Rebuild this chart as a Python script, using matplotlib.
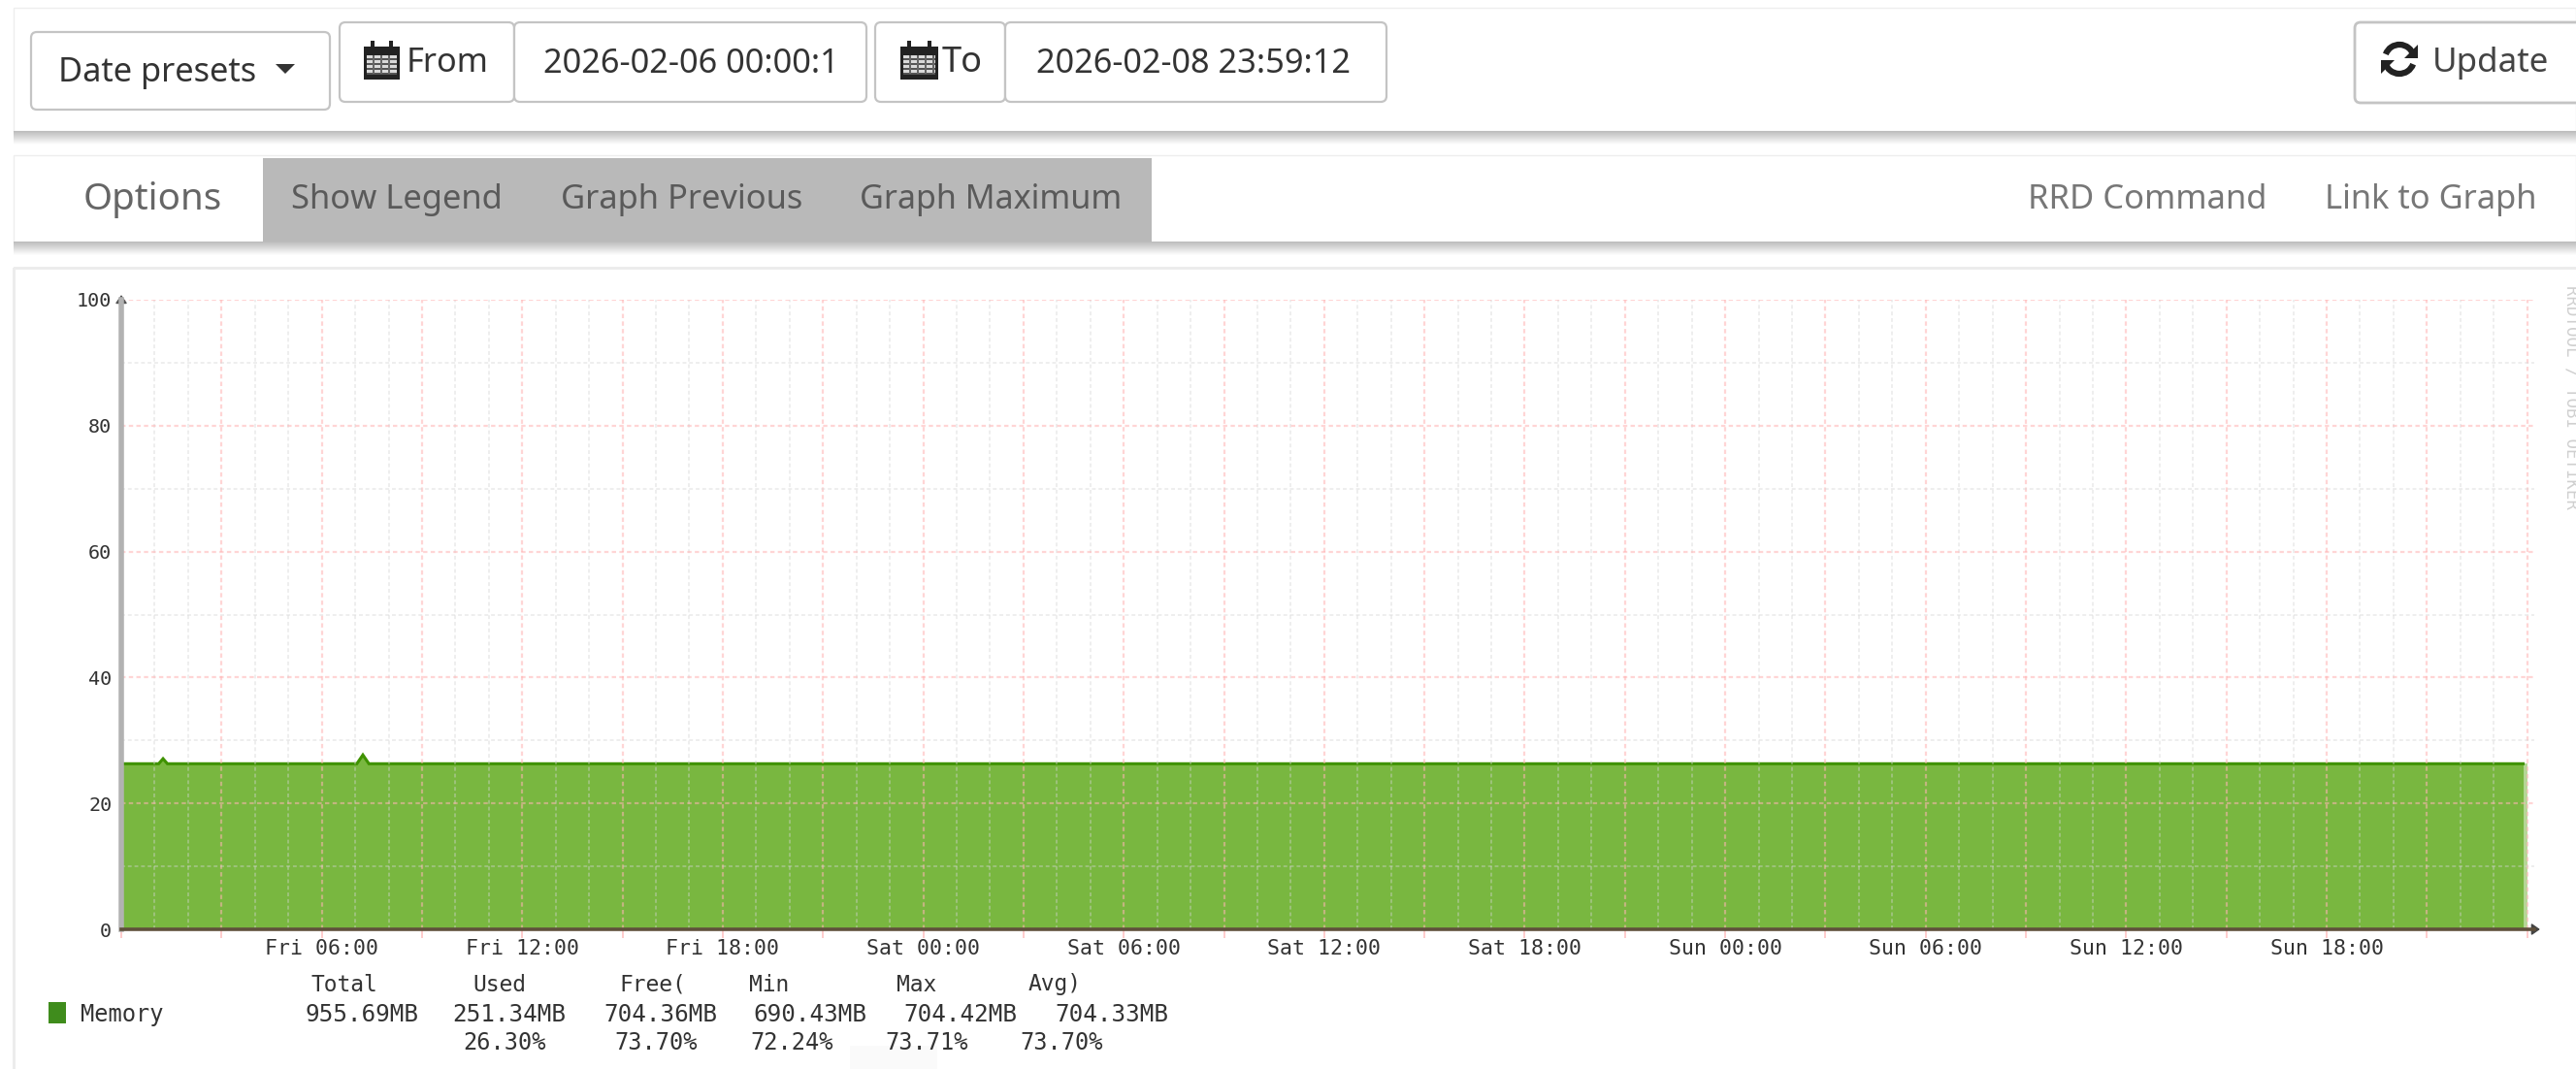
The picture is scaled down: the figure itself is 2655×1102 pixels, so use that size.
import matplotlib
matplotlib.use("Agg")
import matplotlib.pyplot as plt
from matplotlib.patches import Rectangle, FancyBboxPatch, Arc, Polygon
import numpy as np

# ---------- data ----------
hours = [0, 1.12, 1.25, 1.38, 7.05, 7.23, 7.41, 71.88]
memory_pct = [26.3, 26.3, 27.1, 26.3, 26.3, 27.7, 26.3, 26.3]
last_hours = [71.88, 72.0]
last_pct = [26.3, 26.3]
y_ticks = [0, 20, 40, 60, 80, 100]
x_major_ticks = list(range(6, 67, 6))
x_labels = ["Fri 06:00", "Fri 12:00", "Fri 18:00", "Sat 00:00", "Sat 06:00", "Sat 12:00",
            "Sat 18:00", "Sun 00:00", "Sun 06:00", "Sun 12:00", "Sun 18:00"]
legend_headers = ["Total", "Used", "Free(", "Min", "Max", "Avg)"]
legend_values = ["955.69MB", "251.34MB", "704.36MB", "690.43MB", "704.42MB", "704.33MB"]
legend_percents = ["26.30%", "73.70%", "72.24%", "73.71%", "73.70%"]

W, H = 2655, 1102
fig = plt.figure(figsize=(W / 100, H / 100), dpi=100, facecolor="white")
ui = fig.add_axes([0, 0, 1, 1], zorder=0)
ui.set_xlim(0, W)
ui.set_ylim(H, 0)
ui.axis("off")
renderer = fig.canvas.get_renderer()
UI_FONT = "Noto Sans"
MONO = "DejaVu Sans Mono"


def fit(x0, x1, y, s, color="#333333", family=UI_FONT, z=5):
    t = ui.text(x0, y + 3, s, color=color, family=family, fontsize=18, va="center", ha="left", zorder=z)
    w = t.get_window_extent(renderer).width
    t.set_fontsize(18 * (x1 - x0) / w)
    return t


def rect(x0, y0, x1, y1, fc, ec="none", lw=0, z=1, alpha=None):
    ui.add_patch(Rectangle((x0, y0), x1 - x0, y1 - y0, fc=fc, ec=ec, lw=lw, zorder=z, alpha=alpha))


def button(x0, y0, x1, y1, ec="#c4c4c4", lw=1.6, z=3):
    ui.add_patch(FancyBboxPatch((x0 + 5, y0 + 5), x1 - x0 - 10, y1 - y0 - 10,
                                boxstyle="round,pad=5,rounding_size=6", fc="white", ec=ec, lw=lw, zorder=z))


def shadow(y0, x0=14, x1=W, n=14):
    for i in range(n):
        g = 0.74 + 0.25 * (i / (n - 1))
        rect(x0, y0 + i, x1, y0 + i + 1, (g, g, g), z=1)


def calendar(x0, y0, x1, y1):
    rect(x0, y0 + 6, x1, y1, "#222222", z=6)
    rect(x0 + 3, y0 + 15, x1 - 3, y1 - 6, "#d9d9d9", z=6)
    for yy in np.arange(y0 + 18, y1 - 6, 5):
        rect(x0 + 3, yy, x1 - 3, yy + 1.5, "#555555", z=7)
    for xx in np.arange(x0 + 9, x1 - 4, 8):
        rect(xx, y0 + 15, xx + 1.5, y1 - 6, "#666666", z=7)
    for xx in (x0 + 7, x1 - 11):
        rect(xx, y0, xx + 4, y0 + 9, "#222222", z=7)


# ---------- page chrome ----------
rect(14, 8, W, 135, "white", ec="#eeeeee", lw=1)
shadow(135)
rect(14, 160, W, 249, "white", ec="#eeeeee", lw=1)
shadow(249)
rect(14, 276, W, H, "white", z=2)
rect(14, 275, W, 278, "#ececec", z=2)
rect(13, 276, 16, H, "#ececec", z=2)

button(32, 33, 340, 113)
fit(60, 264, 72, "Date presets")
ui.add_patch(Polygon([[284, 66], [304, 66], [294, 76]], fc="#333333", zorder=6))
button(350, 23, 530, 105)
button(530, 23, 893, 105)
calendar(375, 42, 412, 82)
fit(419, 504, 62, "From")
fit(560, 865, 63, "2026-02-06 00:00:1")
button(902, 23, 1036, 105)
button(1036, 23, 1429, 105)
calendar(928, 42, 967, 82)
fit(971, 1013, 62, "To")
fit(1068, 1392, 63, "2026-02-08 23:59:12")
button(2427, 23, 2675, 106, lw=2.0)
ui.add_patch(Arc((2473, 61), 30, 30, theta1=20, theta2=165, color="#222222", lw=4.5, zorder=6))
ui.add_patch(Arc((2473, 61), 30, 30, theta1=200, theta2=345, color="#222222", lw=4.5, zorder=6))
ui.add_patch(Polygon([[2478, 60], [2492, 60], [2492, 46]], fc="#222222", zorder=6))
ui.add_patch(Polygon([[2454, 62], [2468, 62], [2454, 76]], fc="#222222", zorder=6))
fit(2507, 2627, 62, "Update", color="#444444")

rect(271, 163, 1187, 249, "#b9b9b9", z=2)
fit(86, 229, 203, "Options", color="#666666")
fit(300, 518, 203, "Show Legend", color="#5a5a5a")
fit(578, 828, 203, "Graph Previous", color="#5a5a5a")
fit(886, 1156, 203, "Graph Maximum", color="#5a5a5a")
fit(2090, 2336, 203, "RRD Command", color="#777777")
fit(2396, 2615, 203, "Link to Graph", color="#777777")

# ---------- chart ----------
x_px_per_h = 34.44
x_end = (2612 - 125) / x_px_per_h
ax = fig.add_axes([125 / W, 1 - 958 / H, (2612 - 125) / W, (958 - 309) / H], zorder=3)
ax.patch.set_alpha(0)
ax.set_xlim(0, x_end)
ax.set_ylim(0, 100)

ax.fill_between(hours, memory_pct, 0, color="#79b740", lw=0, zorder=1)
ax.plot(hours, memory_pct, color="#3f9200", lw=2.2, zorder=2, solid_joinstyle="miter")
ax.fill_between(last_hours, last_pct, 0, color="#79b740", alpha=0.55, lw=0, zorder=1)

ax.set_yticks(y_ticks)
ax.set_yticks([10, 30, 50, 70, 90], minor=True)
ax.set_xticks(np.arange(0, 73, 3))
ax.set_xticks(np.arange(0, 72, 1), minor=True)
ax.set_xticklabels(["" for _ in np.arange(0, 73, 3)])
ax.set_yticklabels([str(v) for v in y_ticks], family=MONO, fontsize=14.5, color="#333333")
ax.grid(True, which="major", color="#ffb4b4", lw=1.6, ls=(0, (2, 1.5)), alpha=0.55, zorder=3)
ax.grid(True, which="minor", color="#d4d4d4", lw=1.4, ls=(0, (2, 1.5)), alpha=0.4, zorder=3)
ax.set_axisbelow(False)
ax.tick_params(axis="x", which="major", length=6.5, color="#ffc4c4", width=1.2)
ax.tick_params(axis="x", which="minor", length=0)
ax.tick_params(axis="y", which="both", length=0, pad=7)
for s in ("top", "right"):
    ax.spines[s].set_visible(False)
ax.spines["left"].set_color("#b2b2b2")
ax.spines["left"].set_linewidth(4.0)
ax.spines["bottom"].set_color("#5f503c")
ax.spines["bottom"].set_linewidth(2.6)
for s in ax.spines.values():
    s.set_zorder(6)
for xt, lab in zip(x_major_ticks, x_labels):
    ax.annotate(lab, (xt, 0), xycoords=("data", "axes fraction"), xytext=(0, -20 * 0.72),
                textcoords="offset points", ha="center", va="center",
                family=MONO, fontsize=15.5, color="#333333")

# axis arrows
ax.annotate("", xy=(0, 1.012), xytext=(0, 0.99), xycoords="axes fraction", annotation_clip=False,
            arrowprops=dict(arrowstyle="-|>,head_width=0.35,head_length=0.5", color="#555555", lw=1.2))
ax.annotate("", xy=(1.0035, 0), xytext=(0.99, 0), xycoords="axes fraction", annotation_clip=False,
            arrowprops=dict(arrowstyle="-|>,head_width=0.35,head_length=0.5", color="#444444", lw=1.2))

# ---------- legend block ----------
rect(50, 1033, 68, 1055, "#3f8c1c", z=4)
ui.text(83, 1046, "Memory", family=MONO, fontsize=17, color="#333333", va="center", zorder=5)
for cx, s in zip([355, 515, 673, 793, 945, 1087], legend_headers):
    ui.text(cx, 1015, s, family=MONO, fontsize=16.5, color="#333333", va="center", ha="center", zorder=5)
for cx, s in zip([373, 525, 681, 835, 990, 1146], legend_values):
    ui.text(cx, 1046, s, family=MONO, fontsize=17.5, color="#333333", va="center", ha="center", zorder=5)
for cx, s in zip([520, 676, 816, 955, 1094], legend_percents):
    ui.text(cx, 1075, s, family=MONO, fontsize=17, color="#333333", va="center", ha="center", zorder=5)

# faint smudge present in the screenshot
rect(876, 1078, 966, 1102, "#fafafa", z=3)

# watermark on the right edge
ui.text(2651, 409, "RRDTOOL / TOBI OETIKER", family=MONO, fontsize=12.5, color="#d0d0d0",
        rotation=270, ha="center", va="center", zorder=5)

fig.savefig("out.png", dpi=100)
